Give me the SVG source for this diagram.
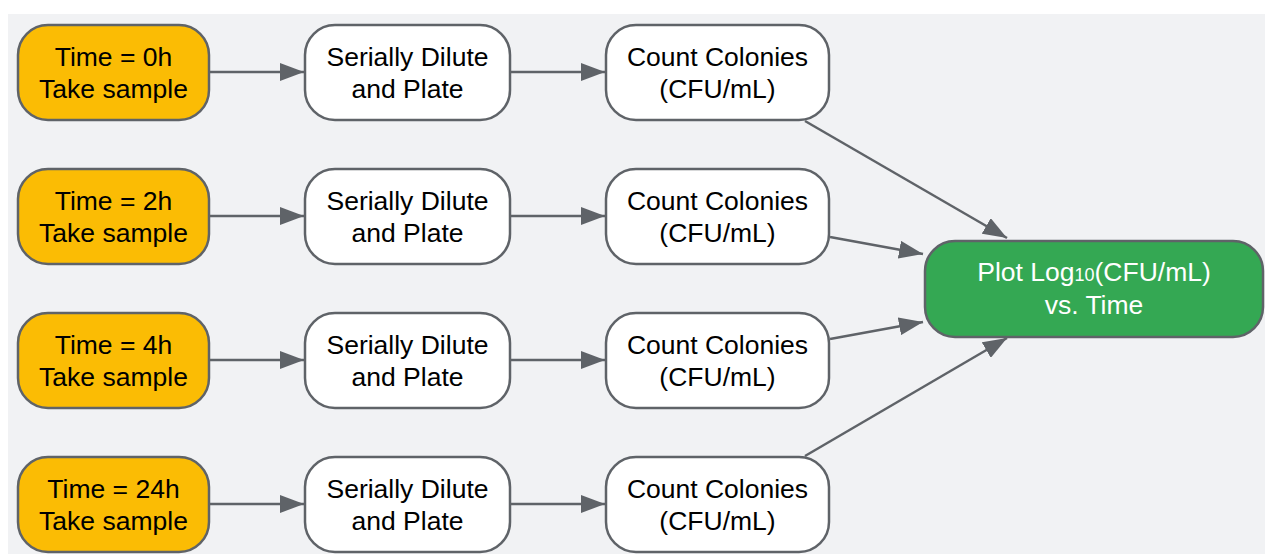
<svg xmlns="http://www.w3.org/2000/svg" width="1265" height="554" viewBox="0 0 1265 554">
<defs>
<marker id="ah" viewBox="0 0 24 18" refX="24" refY="9" markerWidth="24" markerHeight="18" markerUnits="userSpaceOnUse" orient="auto">
<path d="M0,0 L24,9 L0,18 z" fill="#5f6368"/>
</marker>
<style>
.n{stroke:#5f6368;stroke-width:2.5}
.t{fill:#ffffff}
.o{fill:#fbbc04}
.g{fill:#34a853}
text{font-family:"Liberation Sans",Arial,sans-serif;font-size:26.5px;text-anchor:middle;fill:#000}
.w{fill:#ffffff}
.c path{stroke:#5f6368;stroke-width:2.5;fill:none;marker-end:url(#ah)}
</style>
</defs>
<rect x="8" y="14" width="1257" height="540" fill="#f1f2f4"/>
<g class="c">
<path d="M209,72 L304,72"/><path d="M510,72 L605,72"/>
<path d="M209,216 L304,216"/><path d="M510,216 L605,216"/>
<path d="M209,360 L304,360"/><path d="M510,360 L605,360"/>
<path d="M209,504 L304,504"/><path d="M510,504 L605,504"/>
<path d="M805,121 L1007,238"/>
<path d="M830,237 L923,254"/>
<path d="M830,339 L923,322"/>
<path d="M805,456 L1007,338"/>
</g>
<g id="t0"><rect class="n o" x="18" y="25" width="191" height="95" rx="30"/><text x="113.5" y="66">Time = 0h</text><text x="113.5" y="98">Take sample</text></g>
<g id="t2"><rect class="n o" x="18" y="169" width="191" height="95" rx="30"/><text x="113.5" y="210">Time = 2h</text><text x="113.5" y="242">Take sample</text></g>
<g id="t4"><rect class="n o" x="18" y="313" width="191" height="95" rx="30"/><text x="113.5" y="354">Time = 4h</text><text x="113.5" y="386">Take sample</text></g>
<g id="t24"><rect class="n o" x="18" y="457" width="191" height="95" rx="30"/><text x="113.5" y="498">Time = 24h</text><text x="113.5" y="530">Take sample</text></g>
<g id="d0"><rect class="n t" x="305" y="25" width="205" height="95" rx="30"/><text x="407.5" y="66">Serially Dilute</text><text x="407.5" y="98">and Plate</text></g>
<g id="d2"><rect class="n t" x="305" y="169" width="205" height="95" rx="30"/><text x="407.5" y="210">Serially Dilute</text><text x="407.5" y="242">and Plate</text></g>
<g id="d4"><rect class="n t" x="305" y="313" width="205" height="95" rx="30"/><text x="407.5" y="354">Serially Dilute</text><text x="407.5" y="386">and Plate</text></g>
<g id="d24"><rect class="n t" x="305" y="457" width="205" height="95" rx="30"/><text x="407.5" y="498">Serially Dilute</text><text x="407.5" y="530">and Plate</text></g>
<g id="c0"><rect class="n t" x="606" y="25" width="223" height="95" rx="30"/><text x="717.5" y="66">Count Colonies</text><text x="717.5" y="98">(CFU/mL)</text></g>
<g id="c2"><rect class="n t" x="606" y="169" width="223" height="95" rx="30"/><text x="717.5" y="210">Count Colonies</text><text x="717.5" y="242">(CFU/mL)</text></g>
<g id="c4"><rect class="n t" x="606" y="313" width="223" height="95" rx="30"/><text x="717.5" y="354">Count Colonies</text><text x="717.5" y="386">(CFU/mL)</text></g>
<g id="c24"><rect class="n t" x="606" y="457" width="223" height="95" rx="30"/><text x="717.5" y="498">Count Colonies</text><text x="717.5" y="530">(CFU/mL)</text></g>
<g id="plot"><rect class="n g" x="925" y="241" width="338" height="96" rx="30"/><text class="w" x="1094" y="281">Plot Log<tspan font-size="18">10</tspan>(CFU/mL)</text><text class="w" x="1094" y="314">vs. Time</text></g>
</svg>
